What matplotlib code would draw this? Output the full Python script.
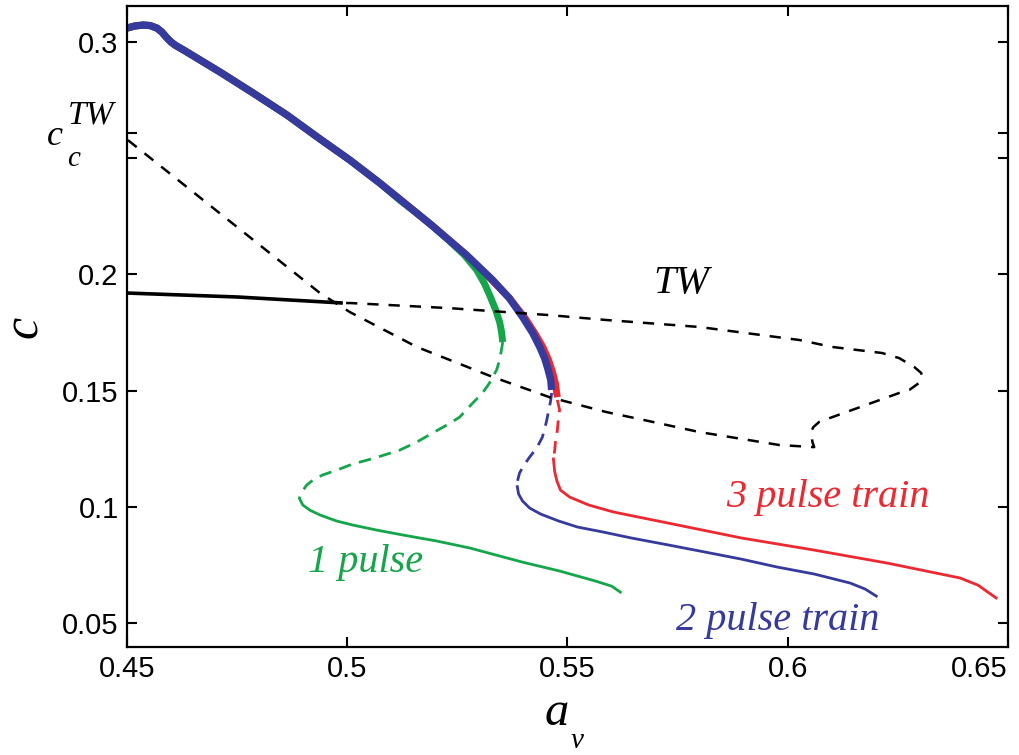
import matplotlib
matplotlib.use("Agg")
import matplotlib.pyplot as plt

# ---------------- data ----------------
# 2 pulse train
blue_stab_x = [0.4500, 0.4518, 0.4536, 0.4552, 0.4568, 0.4579, 0.4591, 0.4600, 0.4609, 0.4636,
               0.4711, 0.4786, 0.4863, 0.4938, 0.5006, 0.5074, 0.5119, 0.5194, 0.5271, 0.5330,
               0.5368, 0.5398, 0.5421, 0.5437, 0.5448, 0.5455, 0.5462, 0.5464]
blue_stab_y = [0.3060, 0.3069, 0.3073, 0.3071, 0.3060, 0.3043, 0.3017, 0.3000, 0.2987, 0.2957,
               0.2871, 0.2781, 0.2686, 0.2583, 0.2492, 0.2393, 0.2324, 0.2208, 0.2083, 0.1976,
               0.1898, 0.1817, 0.1748, 0.1688, 0.1640, 0.1597, 0.1546, 0.1503]
blue_unst_x = [0.5464, 0.5462, 0.5459, 0.5452, 0.5443, 0.5430, 0.5414, 0.5400, 0.5391, 0.5387, 0.5384]
blue_unst_y = [0.1490, 0.1460, 0.1429, 0.1365, 0.1300, 0.1253, 0.1214, 0.1176, 0.1145, 0.1115, 0.1090]
blue_low_x = [0.5386, 0.5389, 0.5398, 0.5414, 0.5439, 0.5480, 0.5523, 0.5580, 0.5645, 0.5729,
              0.5811, 0.5895, 0.5976, 0.6060, 0.6142, 0.6176, 0.6201]
blue_low_y = [0.1087, 0.1055, 0.1025, 0.0995, 0.0969, 0.0939, 0.0913, 0.0892, 0.0866, 0.0836,
              0.0806, 0.0775, 0.0741, 0.0711, 0.0672, 0.0646, 0.0616]

# 1 pulse
green_stab_x = [0.4500, 0.4518, 0.4536, 0.4552, 0.4568, 0.4579, 0.4591, 0.4600, 0.4609, 0.4636,
                0.4711, 0.4786, 0.4863, 0.4938, 0.5006, 0.5074, 0.5119, 0.5158, 0.5194, 0.5232,
                0.5266, 0.5294, 0.5312, 0.5325, 0.5337, 0.5346, 0.5350, 0.5353]
green_stab_y = [0.3060, 0.3069, 0.3073, 0.3071, 0.3060, 0.3043, 0.3017, 0.3000, 0.2987, 0.2957,
                0.2871, 0.2781, 0.2686, 0.2583, 0.2492, 0.2393, 0.2320, 0.2264, 0.2208, 0.2144,
                0.2083, 0.2019, 0.1959, 0.1903, 0.1847, 0.1795, 0.1756, 0.1709]
green_unst_x = [0.5353, 0.5350, 0.5346, 0.5339, 0.5323, 0.5307, 0.5285, 0.5255, 0.5226, 0.5194,
                0.5158, 0.5119, 0.5062, 0.5012, 0.4976, 0.4944, 0.4922, 0.4908, 0.4897, 0.4892, 0.4892]
green_unst_y = [0.1709, 0.1675, 0.1632, 0.1589, 0.1533, 0.1490, 0.1447, 0.1386, 0.1352, 0.1318,
                0.1279, 0.1244, 0.1210, 0.1184, 0.1158, 0.1137, 0.1115, 0.1094, 0.1064, 0.1042, 0.1034]
green_low_x = [0.4892, 0.4899, 0.4915, 0.4938, 0.4976, 0.5012, 0.5067, 0.5126, 0.5203, 0.5278,
               0.5398, 0.5482, 0.5563, 0.5600, 0.5620]
green_low_y = [0.1034, 0.1008, 0.0986, 0.0965, 0.0939, 0.0922, 0.0900, 0.0879, 0.0853, 0.0823,
               0.0762, 0.0724, 0.0681, 0.0659, 0.0633]

# 3 pulse train
red_stab_x = [0.4500, 0.4518, 0.4536, 0.4552, 0.4568, 0.4579, 0.4591, 0.4600, 0.4609, 0.4636,
              0.4711, 0.4786, 0.4863, 0.4938, 0.5006, 0.5074, 0.5119, 0.5194, 0.5271, 0.5330,
              0.5368, 0.5402, 0.5427, 0.5444, 0.5457, 0.5466, 0.5473, 0.5475, 0.5477]
red_stab_y = [0.3060, 0.3069, 0.3073, 0.3071, 0.3060, 0.3043, 0.3017, 0.3000, 0.2987, 0.2957,
              0.2871, 0.2781, 0.2686, 0.2583, 0.2492, 0.2393, 0.2324, 0.2208, 0.2083, 0.1972,
              0.1898, 0.1817, 0.1744, 0.1688, 0.1632, 0.1580, 0.1528, 0.1494, 0.1472]
red_unst_x = [0.5477, 0.5482, 0.5479, 0.5477, 0.5473, 0.5471, 0.5468]
red_unst_y = [0.1460, 0.1417, 0.1373, 0.1330, 0.1287, 0.1244, 0.1206]
red_low_x = [0.5468, 0.5471, 0.5476, 0.5484, 0.5505, 0.5548, 0.5604, 0.5729, 0.5895, 0.6060,
             0.6226, 0.6391, 0.6432, 0.6473]
red_low_y = [0.1206, 0.1150, 0.1111, 0.1072, 0.1042, 0.1008, 0.0978, 0.0930, 0.0866, 0.0814,
             0.0758, 0.0694, 0.0663, 0.0608]

# travelling wave branch
tw_stab_x = [0.4500, 0.4750, 0.4990]
tw_stab_y = [0.1920, 0.1903, 0.1877]
tw_unst_x = [0.4502, 0.4724, 0.4938, 0.5006, 0.5158, 0.5330, 0.5459, 0.5588, 0.5675, 0.5799,
             0.5981, 0.6060, 0.6056, 0.6053, 0.6058, 0.6071, 0.6101, 0.6253, 0.6276, 0.6298,
             0.6305, 0.6303, 0.6287, 0.6253, 0.6214, 0.6101, 0.6026, 0.5799, 0.5588, 0.5459,
             0.5232, 0.5006, 0.4990]
tw_unst_y = [0.2578, 0.2243, 0.1920, 0.1838, 0.1688, 0.1559, 0.1472, 0.1408, 0.1373, 0.1322,
             0.1266, 0.1257, 0.1279, 0.1322, 0.1343, 0.1365, 0.1386, 0.1490, 0.1503, 0.1533,
             0.1554, 0.1576, 0.1602, 0.1640, 0.1662, 0.1688, 0.1718, 0.1774, 0.1804, 0.1825,
             0.1855, 0.1877, 0.1877]

x_ticks = [0.45, 0.5, 0.55, 0.6, 0.65]
x_tick_labels = ["0.45", "0.5", "0.55", "0.6", "0.65"]
y_ticks = [0.05, 0.1, 0.15, 0.2, 0.25, 0.2608, 0.3]
y_tick_labels = ["0.05", "0.1", "0.15", "0.2", "", "", "0.3"]

BLUE = "#353a9c"
GREEN = "#15a54a"
RED = "#ec2830"

SERIF = ["Liberation Serif", "DejaVu Serif"]
SANS = ["Liberation Sans", "DejaVu Sans"]

W, H = 1020, 755
fig = plt.figure(figsize=(W / 100, H / 100), dpi=100)
ax = fig.add_axes([127 / W, 1 - 647 / H, (1008 - 127) / W, (647 - 6) / H])

dash_c = (4.5, 3.0)
dash_k = (4.5, 4.0)

# thick stable branches
ax.plot(red_stab_x, red_stab_y, color=RED, lw=5.0, solid_capstyle="butt", solid_joinstyle="round")
ax.plot(green_stab_x, green_stab_y, color=GREEN, lw=5.0, solid_capstyle="butt", solid_joinstyle="round")
ax.plot(blue_stab_x, blue_stab_y, color=BLUE, lw=5.3, solid_capstyle="butt", solid_joinstyle="round")

# unstable dashed
ax.plot(green_unst_x, green_unst_y, color=GREEN, lw=2.0, dashes=dash_c)
ax.plot(blue_unst_x, blue_unst_y, color=BLUE, lw=2.0, dashes=dash_c)
ax.plot(red_unst_x, red_unst_y, color=RED, lw=2.0, dashes=dash_c)

# lower thin branches
ax.plot(green_low_x, green_low_y, color=GREEN, lw=2.0, solid_joinstyle="round")
ax.plot(blue_low_x, blue_low_y, color=BLUE, lw=2.0, solid_joinstyle="round")
ax.plot(red_low_x, red_low_y, color=RED, lw=2.0, solid_joinstyle="round")

# travelling wave
ax.plot(tw_stab_x, tw_stab_y, color="black", lw=2.6, solid_capstyle="butt")
ax.plot(tw_unst_x, tw_unst_y, color="black", lw=1.8, dashes=dash_k)

ax.set_xlim(0.45, 0.6498)
ax.set_ylim(0.0397, 0.3155)

ax.set_xticks(x_ticks)
ax.set_xticklabels(x_tick_labels, fontsize=21, family=SANS)
ax.set_yticks(y_ticks)
ax.set_yticklabels(y_tick_labels, fontsize=21, family=SANS)
ax.get_xticklabels()[-1].set_horizontalalignment("right")
ax.tick_params(direction="in", length=7, width=1.5, top=True, right=True, pad=6)
for s in ax.spines.values():
    s.set_linewidth(1.6)

# axis labels
ax.set_xlabel("a", fontsize=35, family=SERIF, style="italic")
ax.xaxis.label.set_verticalalignment("baseline")
ax.xaxis.set_label_coords((557 - 127) / 881, (647 - 725) / 641)
ax.text((577 - 127) / 881, (647 - 748) / 641, "v", transform=ax.transAxes, fontsize=21,
        family=SERIF, style="italic", ha="center", va="baseline")

ax.set_ylabel("c", fontsize=36, family=SERIF, style="italic", rotation=90)
ax.yaxis.label.set_verticalalignment("baseline")
ax.yaxis.label.set_horizontalalignment("center")
ax.yaxis.set_label_coords((37 - 127) / 881, (647 - 327) / 641)

# custom tick label c_c^TW
ax.text((55 - 127) / 881, (647 - 145) / 641, "c", transform=ax.transAxes, fontsize=26,
        family=SERIF, style="italic", ha="center", va="baseline")
ax.text((91 - 127) / 881, (647 - 124) / 641, "TW", transform=ax.transAxes, fontsize=24,
        family=SERIF, style="italic", ha="center", va="baseline")
ax.text((74 - 127) / 881, (647 - 166) / 641, "c", transform=ax.transAxes, fontsize=21,
        family=SERIF, style="italic", ha="center", va="baseline")

# curve annotations
ax.text(0.5759, 0.1959, "TW", fontsize=29, family=SERIF, style="italic", color="black",
        ha="center", va="center")
ax.text(0.6090, 0.1042, "3 pulse train", fontsize=29, family=SERIF, style="italic", color=RED,
        ha="center", va="center")
ax.text(0.5978, 0.0513, "2 pulse train", fontsize=29, family=SERIF, style="italic", color=BLUE,
        ha="center", va="center")
ax.text(0.5042, 0.0762, "1 pulse", fontsize=29, family=SERIF, style="italic", color=GREEN,
        ha="center", va="center")

fig.savefig("out.png", dpi=100)
